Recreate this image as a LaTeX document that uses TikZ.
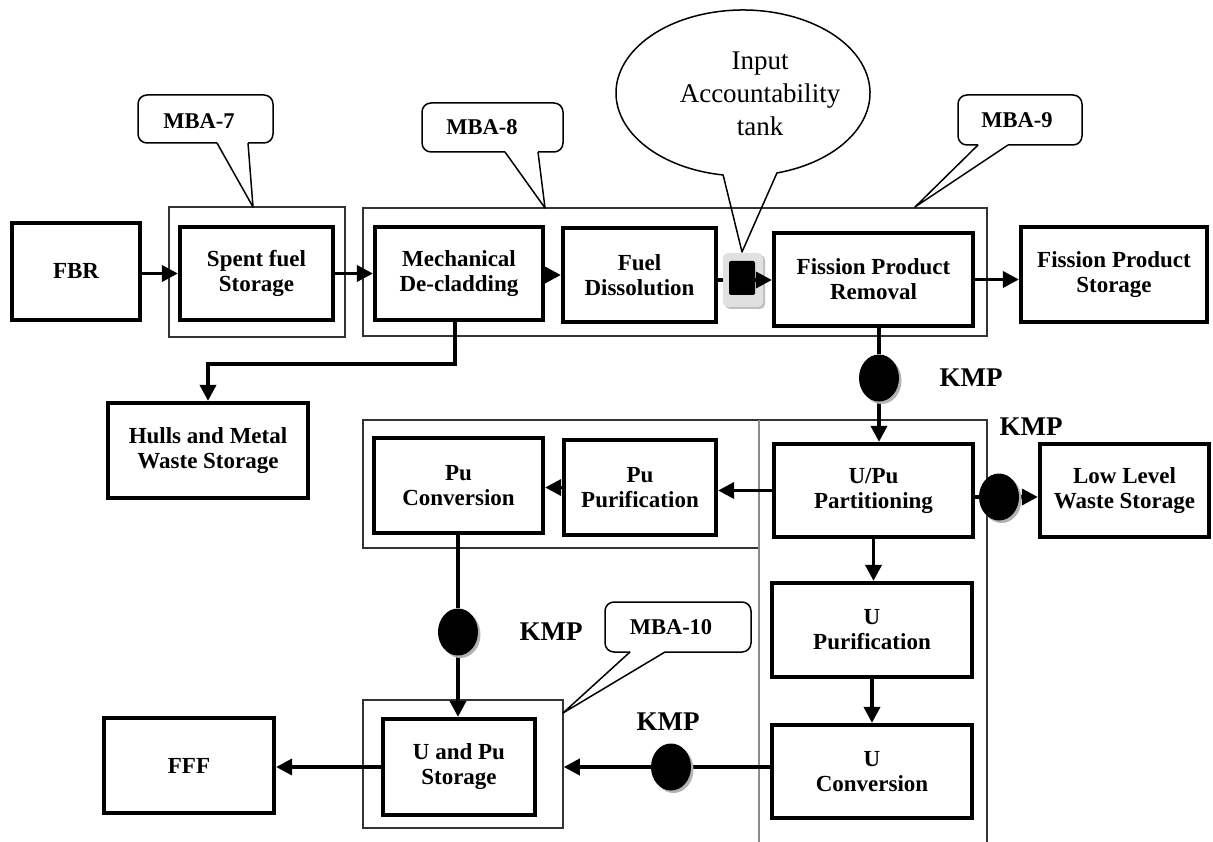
\documentclass[tikz,border=0pt]{standalone}
\usepackage{fontspec}
\setmainfont{Liberation Serif}
\usetikzlibrary{arrows.meta,shapes.geometric,shadows,backgrounds,calc}
\begin{document}
\begin{tikzpicture}[x=1pt,y=-1pt,
  box/.style 2 args={draw,line width=4.2pt,minimum width=#1pt,minimum height=#2pt,inner sep=0pt,align=center,font={\fontsize{23pt}{25pt}\selectfont\bfseries}},
  frame/.style 2 args={draw=black!80,line width=1.5pt,minimum width=#1pt,minimum height=#2pt,inner sep=0pt},
  framepath/.style={draw=black!80,line width=1.5pt},
  grayframe/.style={draw=black!45,line width=1.5pt},
  arr/.style={line width=3.6pt,-{Triangle[length=16pt,width=16pt]}},
  plainline/.style={line width=3.6pt},
  kmp/.style={ellipse,fill=black,minimum width=40pt,minimum height=47pt,inner sep=0pt,drop shadow={shadow xshift=2.5pt,shadow yshift=-2.5pt,fill=black!30,opacity=1}},
  kmplabel/.style={font={\fontsize{27pt}{30pt}\selectfont\bfseries}},
  mbalabel/.style={font={\fontsize{22.5pt}{25pt}\selectfont\bfseries}},
  callout/.style={draw,line width=1.5pt,line join=round}
]
\useasboundingbox (0,0) rectangle (1213,842);

% process boxes
\node[box={128}{97}] (FBR) at (76,271.5) {FBR};
\node[box={153}{93}] (Spent) at (256.5,273.5) {Spent fuel\\Storage};
\node[box={168}{93}] (Mech) at (459,273.5) {Mechanical\\De-cladding};
\node[box={153}{94}] (FuelD) at (639.5,275) {Fuel\\Dissolution};
\node[box={199}{93}] (FPR) at (873.5,279.5) {Fission Product\\Removal};
\node[box={186}{95}] (FPS) at (1114,274.5) {Fission Product\\Storage};
\node[box={200}{95}] (Hulls) at (208,450.5) {Hulls and Metal\\Waste Storage};
\node[box={169}{95}] (PuConv) at (458.5,485.5) {Pu\\Conversion};
\node[box={152}{95}] (PuPur) at (640,487.5) {Pu\\Purification};
\node[box={199}{93}] (UPu) at (873.5,490.5) {U/Pu\\Partitioning};
\node[box={169}{93}] (LLW) at (1124.5,490.5) {Low Level\\Waste Storage};
\node[box={200}{94}] (UPur) at (872,630) {U\\Purification};
\node[box={200}{93}] (UConv) at (872,771.5) {U\\Conversion};
\node[box={152}{96}] (UPuSt) at (459,767) {U and Pu\\Storage};
\node[box={170}{95}] (FFF) at (189,765.5) {FFF};

% KMP points and tank
\coordinate (tc) at (742,280);
\coordinate (hb) at (455,364);
\node[kmp] (k1) at (879,378) {};
\node[kmp] (k2) at (999,497) {};
\node[kmp] (k3) at (458,632) {};
\node[kmp] (k4) at (671,767) {};
\node[fill=black!12,rounded corners=5pt,minimum width=40pt,minimum height=54pt,inner sep=0pt,drop shadow={shadow xshift=2pt,shadow yshift=-2pt,fill=black!25,opacity=1}] (tankbg) at (743,280) {};
\node[fill=black,rounded corners=2pt,minimum width=26pt,minimum height=34pt,inner sep=0pt] (tank) at (742,278) {};
\draw[arr] (tank.east |- tc) -- (FPR.west |- tc);

\begin{pgfonlayer}{background}
% MBA frames
\node[frame={176}{130}] (f7) at (257,272) {};
\node[frame={624}{128}] (f89) at (675,272) {};
\node[frame={396}{128}] (fpu) at (561,484) {};
\node[frame={200}{128}] (f10) at (463,764) {};
\draw[framepath] (759,420) -- (987,420) -- (987,842);
\draw[grayframe] (759,420) -- (759,842);

% connectors
\draw[arr] (Spent.west -| FBR.east) -- (Spent.west);
\draw[arr] (Spent.east) -- (Spent.east -| Mech.west);
\draw[arr] (FuelD.west -| Mech.east) -- (FuelD.west);
\draw[plainline] (FuelD.east |- tc) -- (tc);
\draw[arr] (FPR.east) -- (FPR.east -| FPS.west);
\draw[arr] (Mech.south -| hb) -- (hb) -| (Hulls.north);
\draw[arr] (FPR.south -| k1) -- (k1) -- (UPu.north -| k1);
\draw[arr] (UPu.east |- k2) -- (k2) -- (LLW.west |- k2);
\draw[arr] (UPu.west) -- (UPu.west -| PuPur.east);
\draw[arr] (PuPur.west) -- (PuPur.west -| PuConv.east);
\draw[arr] (UPu.south) -- (UPu.south |- UPur.north);
\draw[arr] (UPur.south) -- (UPur.south |- UConv.north);
\draw[arr] (PuConv.south -| k3) -- (k3) -- (UPuSt.north -| k3);
\draw[arr] (UConv.west |- k4) -- (k4) -- (f10.east |- k4);
\draw[arr] (UPuSt.west) -- (UPuSt.west -| FFF.east);
\end{pgfonlayer}

% KMP labels
\node[kmplabel] (kl1) at (971,378) {KMP};
\node[kmplabel] (kl2) at (1031,427) {KMP};
\node[kmplabel] (kl3) at (551,632) {KMP};
\node[kmplabel] (kl4) at (668,722) {KMP};

% MBA callouts
\node[mbalabel] (m7) at (199,121) {MBA-7};
\draw[callout,rounded corners=9pt] (217,143) -| (138,95) -| (273,143) -- (248,143);
\draw[callout] (217,143) -- (253,207) -- (248,143);

\node[mbalabel] (m8) at (482,127) {MBA-8};
\draw[callout,rounded corners=9pt] (505,152) -| (422,103) -| (563,152) -- (538,152);
\draw[callout] (505,152) -- (545,208) -- (538,152);

\node[mbalabel] (m9) at (1017,120) {MBA-9};
\draw[callout,rounded corners=9pt] (978,145) -| (958,95) -| (1082,145) -- (1008,145);
\draw[callout] (978,145) -- (915,207) -- (1008,145);

\node[mbalabel] (m10) at (671,627) {MBA-10};
\draw[callout,rounded corners=9pt] (630,652) -| (605,602) -| (751,652) -- (665,652);
\draw[callout] (630,652) -- (563,713) -- (665,652);

% Input accountability tank callout
\coordinate (ic) at (743,93);
\node[align=center,font={\fontsize{27pt}{33pt}\selectfont}] (iat) at (760,94) {Input\\Accountability\\tank};
\draw[callout] ($(ic)+(74.5:127 and 83)$) arc[start angle=74.5,end angle=-261,x radius=127,y radius=83] -- (742,252) -- cycle;
\end{tikzpicture}
\end{document}
